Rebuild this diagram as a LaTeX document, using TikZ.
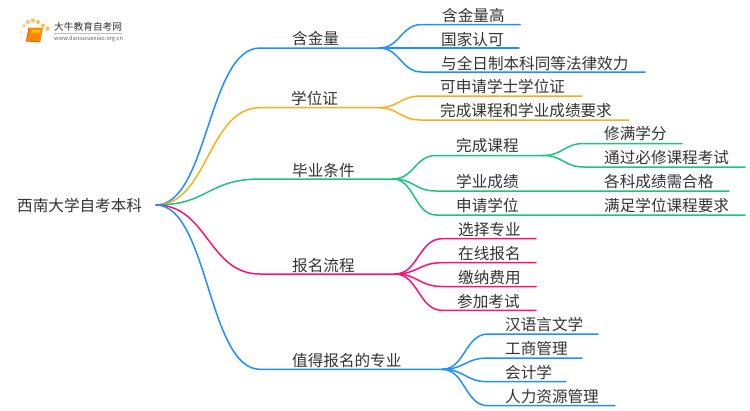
\documentclass[tikz,border=0pt]{standalone}
\usepackage{fontspec}
\setmainfont{Noto Sans CJK SC}
\usetikzlibrary{calc}
\definecolor{cblue}{HTML}{1E90FF}
\definecolor{corange}{HTML}{FBAE1A}
\definecolor{cgreen}{HTML}{1CC47C}
\definecolor{cpink}{HTML}{FF1176}
\definecolor{ctext}{HTML}{333333}
\tikzset{
  lbl/.style={font=\fontsize{15.6pt}{16pt}\selectfont,text=ctext,inner sep=0pt,anchor=west,yshift=-0.7pt},
  link/.style={line width=1.5pt,line cap=round},
  logotext/.style={inner sep=0pt,anchor=west,text=ctext},
}
% \curvelink{colour}{from}{via}{end}{half width}
\newcommand{\curvelink}[5]{\draw[link,#1] (#2) .. controls +(#5pt,0pt) and ($(#3)+(-#5pt,0pt)$) .. (#3) -- (#4);}
\begin{document}
\begin{tikzpicture}[x=1pt,y=-1pt]
\useasboundingbox (0,0) rectangle (750,410);
\fill[white] (0,0) rectangle (750,410);
% logo
\foreach \a/\b/\r/\o in {21.5/38/1.2/.3,21/32/1.5/.45,24/26/1.8/.6,28/22/2/.7,33/20.5/2.1/.75,38/22/2/.8,43/25.5/2/.8,47.5/28.5/2.2/.75}
  \fill[corange,opacity=\o] (\a,\b) circle (\r);
\fill[orange!90!yellow] (29,27.5) -- (43,27.5) -- (40.5,41) -- (26.5,41) -- cycle;
\draw[orange!70!red,line width=1pt] (29,27.5) -- (26.5,41) -- (40.5,41.8);
\fill[yellow!55!orange] (32,30) -- (40,30) -- (39.6,32.5) -- (31.6,32.5) -- cycle;
\node[logotext,font=\fontsize{9.7pt}{10pt}\selectfont] (logoa) at (54,27) {大牛教育自考网};
\draw[black!25,line width=.5pt] (54,33.3) -- (122,33.3);
\node[logotext,font=\fontsize{5.7pt}{6pt}\selectfont,text=black!60] (logob) at (54,38.5) {www.daniuxuexiao.org.cn};
% coordinates
\coordinate (r) at (156,205);
\node[lbl] (root) at (17,205) {西南大学自考本科};
% branch 1
\coordinate (a) at (260,48); \coordinate (aj) at (379,48);
\node[lbl] at (292,38) (at) {含金量};
\curvelink{cblue}{r}{a}{aj}{52}
\node[lbl] (a1t) at (442,14.5) {含金量高};
\node[lbl] (a2t) at (441,38.5) {国家认可};
\node[lbl] (a3t) at (441,62.5) {与全日制本科同等法律效力};
\coordinate (a1) at (422,24.5); \coordinate (a1e) at (520,24.5);
\coordinate (a2) at (422,48); \coordinate (a2e) at (519,48);
\coordinate (a3) at (422,72); \coordinate (a3e) at (645,72);
\curvelink{cblue}{aj}{a1}{a1e}{21}
\curvelink{cblue}{aj}{a2}{a2e}{21}
\curvelink{cblue}{aj}{a3}{a3e}{21}
% branch 2
\coordinate (b) at (260,107.7); \coordinate (bj) at (378,107.7);
\node[lbl] (bt) at (291,98) {学位证};
\curvelink{corange}{r}{b}{bj}{52}
\node[lbl] (b1t) at (440,86) {可申请学士学位证};
\node[lbl] (b2t) at (440,110) {完成课程和学业成绩要求};
\coordinate (b1) at (421,96); \coordinate (b1e) at (582,96);
\coordinate (b2) at (421,120); \coordinate (b2e) at (629,120);
\curvelink{corange}{bj}{b1}{b1e}{21}
\curvelink{corange}{bj}{b2}{b2e}{21}
% branch 3
\coordinate (c) at (260,179); \coordinate (cj) at (393,179);
\node[lbl] (ct) at (292,170) {毕业条件};
\curvelink{cgreen}{r}{c}{cj}{52}
\node[lbl] (c1t) at (456,145) {完成课程};
\node[lbl] (c2t) at (456,181) {学业成绩};
\node[lbl] (c3t) at (456,205) {申请学位};
\coordinate (c1) at (436,155.5); \coordinate (c1j) at (543,155.5);
\coordinate (c2) at (436,191); \coordinate (c2e) at (729,191);
\coordinate (c3) at (436,215); \coordinate (c3e) at (745,215);
\curvelink{cgreen}{cj}{c1}{c1j}{21}
\curvelink{cgreen}{cj}{c2}{c2e}{21}
\curvelink{cgreen}{cj}{c3}{c3e}{21}
\node[lbl] (c11t) at (604,133) {修满学分};
\node[lbl] (c12t) at (604,157) {通过必修课程考试};
\node[lbl] (c2bt) at (604,181) {各科成绩需合格};
\node[lbl] (c3bt) at (604,205) {满足学位课程要求};
\coordinate (c11) at (584,143.5); \coordinate (c11e) at (682,143.5);
\coordinate (c12) at (584,167); \coordinate (c12e) at (745,167);
\curvelink{cgreen}{c1j}{c11}{c11e}{20}
\curvelink{cgreen}{c1j}{c12}{c12e}{20}
% branch 4
\coordinate (d) at (260,274); \coordinate (dj) at (395,274);
\node[lbl] (dt) at (292,265) {报名流程};
\curvelink{cpink}{r}{d}{dj}{52}
\node[lbl] (d1t) at (458,229) {选择专业};
\node[lbl] (d2t) at (458,253) {在线报名};
\node[lbl] (d3t) at (458,277) {缴纳费用};
\node[lbl] (d4t) at (457,300.5) {参加考试};
\coordinate (d1) at (442,238.7); \coordinate (d1e) at (536,238.7);
\coordinate (d2) at (442,262.7); \coordinate (d2e) at (536,262.7);
\coordinate (d3) at (442,286.5); \coordinate (d3e) at (536,286.5);
\coordinate (d4) at (442,310.3); \coordinate (d4e) at (536,310.3);
\curvelink{cpink}{dj}{d1}{d1e}{23}
\curvelink{cpink}{dj}{d2}{d2e}{23}
\curvelink{cpink}{dj}{d3}{d3e}{23}
\curvelink{cpink}{dj}{d4}{d4e}{23}
% branch 5
\coordinate (e) at (260,369.3); \coordinate (ej) at (442,369.3);
\node[lbl] (et) at (292,360) {值得报名的专业};
\curvelink{cblue}{r}{e}{ej}{52}
\node[lbl] (e1t) at (505,324) {汉语言文学};
\node[lbl] (e2t) at (505,348) {工商管理};
\node[lbl] (e3t) at (505,372) {会计学};
\node[lbl] (e4t) at (505,396) {人力资源管理};
\coordinate (e1) at (488,334); \coordinate (e1e) at (598,334);
\coordinate (e2) at (488,358); \coordinate (e2e) at (582,358);
\coordinate (e3) at (488,381.7); \coordinate (e3e) at (566,381.7);
\coordinate (e4) at (488,405.7); \coordinate (e4e) at (615,405.7);
\curvelink{cblue}{ej}{e1}{e1e}{23}
\curvelink{cblue}{ej}{e2}{e2e}{23}
\curvelink{cblue}{ej}{e3}{e3e}{23}
\curvelink{cblue}{ej}{e4}{e4e}{23}
\end{tikzpicture}
\end{document}
